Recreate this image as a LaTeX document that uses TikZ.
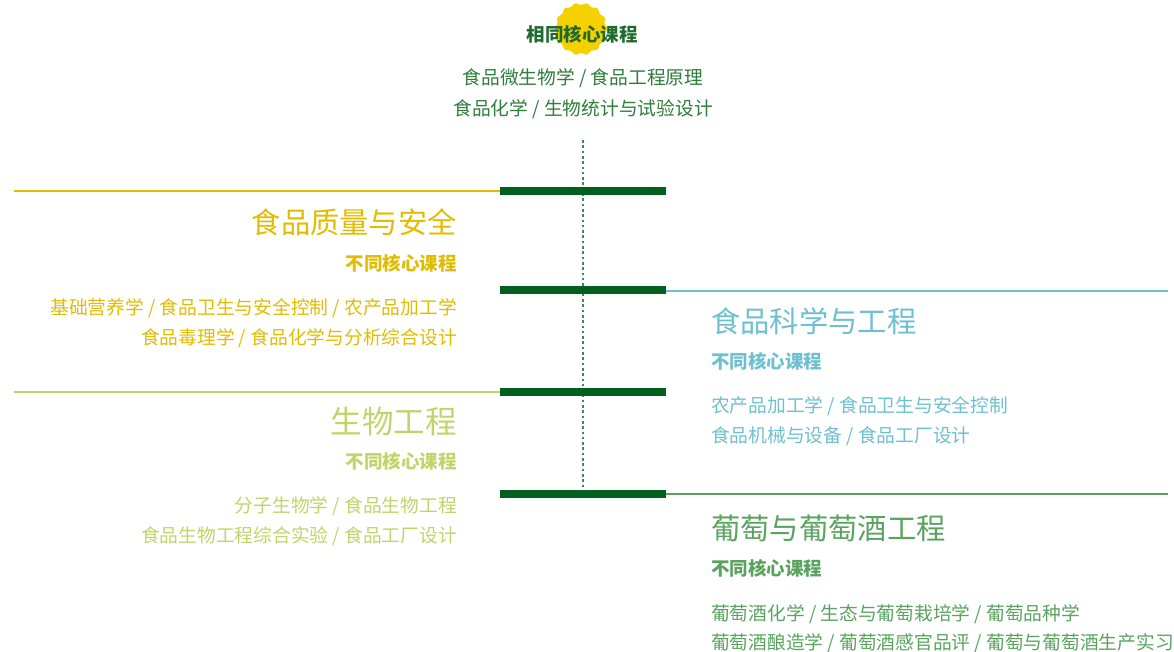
\documentclass[tikz,border=0pt]{standalone}
\usepackage{fontspec}
\setmainfont{Noto Sans CJK SC}
\usetikzlibrary{shapes.geometric}
\definecolor{dkgreen}{HTML}{00611F}
\definecolor{topgreen}{HTML}{1F6B2E}
\definecolor{midgreen}{HTML}{2E7D3A}
\definecolor{dotgreen}{HTML}{3D8A50}
\definecolor{ylw}{HTML}{E2BC00}
\definecolor{badgey}{HTML}{F7D000}
\definecolor{cyn}{HTML}{6CC0CF}
\definecolor{lgreen}{HTML}{BFD56A}
\definecolor{grn}{HTML}{5AA35F}
\tikzset{
  body/.style={inner sep=0pt, font=\fontsize{18.75}{22}\selectfont},
  head/.style={inner sep=0pt, font=\fontsize{29.3}{34}\selectfont},
  bighead/.style={inner sep=0pt, font=\fontsize{31.5}{36}\selectfont},
  sub/.style={inner sep=0pt, font=\fontsize{18.5}{22}\selectfont\bfseries},
  bar/.style={fill=dkgreen, draw=none},
  rail/.style={line width=2pt},
}
\begin{document}
\begin{tikzpicture}[x=1pt,y=-1pt]
\useasboundingbox (0,0) rectangle (1174,651);
% badge and common courses
\node[star, star points=14, star point ratio=0.9, minimum size=48pt, fill=badgey, inner sep=0pt, rounded corners=1pt] (badge) at (581,29) {};
\node[sub, text=topgreen] (common) at (582,34) {相同核心课程};
\node[body, text=midgreen] (c1) at (583,78.5) {食品微生物学 / 食品工程原理};
\node[body, text=midgreen] (c2) at (583,109.5) {食品化学 / 生物统计与试验设计};
% spine
\coordinate (sTop) at (583,140);
\coordinate (sBot) at (583,488);
\draw[dotgreen, line width=1.4pt, dash pattern=on 2.6pt off 2.7pt] (sTop) -- (sBot);
% bars
\foreach \n/\y in {1/191,2/290,3/392,4/494}{
  \coordinate (bl\n) at (500,\y);
  \coordinate (br\n) at (666,\y);
  \fill[bar] (500,\y-3.6) rectangle (666,\y+3.6);
}
% rails
\coordinate (r1) at (14,191);
\coordinate (r2) at (1168,291);
\coordinate (r3) at (14,392);
\coordinate (r4) at (1168,494);
\draw[rail, ylw] (r1) -- (bl1);
\draw[rail, cyn] (br2 |- r2) -- (r2);
\draw[rail, lgreen] (r3) -- (bl3);
\draw[rail, grn] (br4 |- r4) -- (r4);
% left: food quality and safety
\node[head, text=ylw, anchor=east] (h1) at (457,222) {食品质量与安全};
\node[sub, text=ylw, anchor=east] (s1) at (457,263) {不同核心课程};
\node[body, text=ylw, anchor=east] (a1) at (457,308.5) {基础营养学 / 食品卫生与安全控制 / 农产品加工学};
\node[body, text=ylw, anchor=east] (b1) at (457,338.5) {食品毒理学 / 食品化学与分析综合设计};
% right: food science and engineering
\node[head, text=cyn, anchor=west] (h2) at (711,321) {食品科学与工程};
\node[sub, text=cyn, anchor=west] (s2) at (711,361) {不同核心课程};
\node[body, text=cyn, anchor=west] (a2) at (711,406.5) {农产品加工学 / 食品卫生与安全控制};
\node[body, text=cyn, anchor=west] (b2) at (711,436.5) {食品机械与设备 / 食品工厂设计};
% left: bioengineering
\node[bighead, text=lgreen, anchor=east] (h3) at (457,422) {生物工程};
\node[sub, text=lgreen, anchor=east] (s3) at (457,461) {不同核心课程};
\node[body, text=lgreen, anchor=east] (a3) at (457,506.5) {分子生物学 / 食品生物工程};
\node[body, text=lgreen, anchor=east] (b3) at (457,536.5) {食品生物工程综合实验 / 食品工厂设计};
% right: grape and wine engineering
\node[head, text=grn, anchor=west] (h4) at (711,528) {葡萄与葡萄酒工程};
\node[sub, text=grn, anchor=west] (s4) at (711,568) {不同核心课程};
\node[body, text=grn, anchor=west] (a4) at (711,614.5) {葡萄酒化学 / 生态与葡萄栽培学 / 葡萄品种学};
\node[body, text=grn, anchor=west] (b4) at (711,643.5) {葡萄酒酿造学 / 葡萄酒感官品评 / 葡萄与葡萄酒生产实习};
\end{tikzpicture}
\end{document}
